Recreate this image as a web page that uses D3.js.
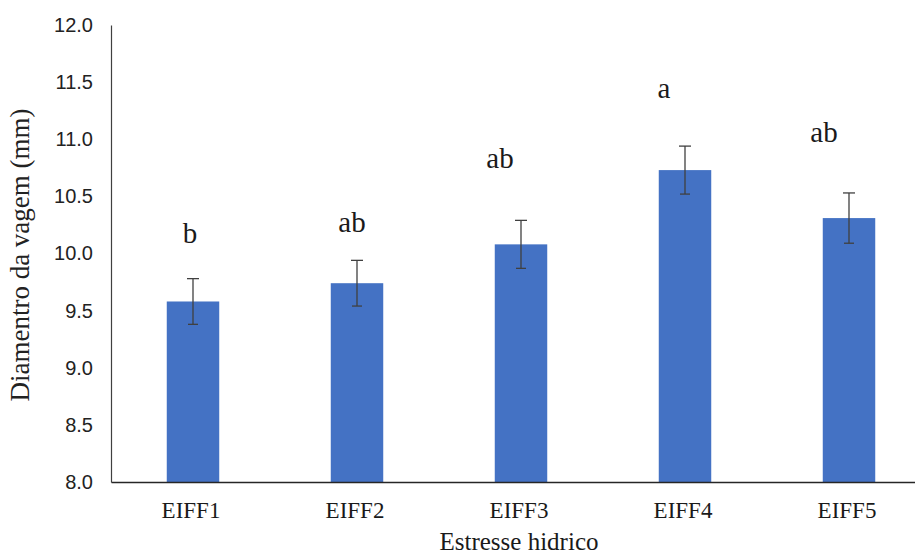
<!DOCTYPE html>
<html><head><meta charset="utf-8">
<script src="https://cdn.jsdelivr.net/npm/d3@7"></script>
<style>html,body{margin:0;padding:0;background:#fff;overflow:hidden}</style>
</head><body>
<svg id="chart" width="915" height="556"></svg>
<script>
const categories = ["EIFF1", "EIFF2", "EIFF3", "EIFF4", "EIFF5"];
const means = [9.58, 9.74, 10.08, 10.73, 10.31];
const errors = [0.20, 0.20, 0.21, 0.21, 0.22];
const letters = ["b", "ab", "ab", "a", "ab"];
const letterLevels = [10.09, 10.19, 10.75, 11.36, 10.98];
const yTicks = [8.0, 8.5, 9.0, 9.5, 10.0, 10.5, 11.0, 11.5, 12.0];
const xTitle = "Estresse hidrico";
const yTitle = "Diamentro da vagem (mm)";

(function () {
const svg = d3.select("#chart");
const mLeft = 111, mRight = 931, mTop = 25, mBottom = 482;
const serif = "Liberation Serif, Times New Roman, serif";

const x = d3.scaleBand().domain(categories).range([mLeft, mRight]).paddingInner(0.68).paddingOuter(0.34);
const y = d3.scaleLinear().domain([8, 12]).range([mBottom, mTop]);
const data = categories.map((c, i) => ({c, m: means[i], e: errors[i], l: letters[i], ly: letterLevels[i]}));

const yAxis = svg.append("g").attr("transform", `translate(${mLeft},0)`)
  .call(d3.axisLeft(y).tickValues(yTicks).tickFormat(d3.format(".1f")).tickSize(0).tickPadding(18));
yAxis.select(".domain").attr("stroke", "#404040").attr("stroke-width", 1.2);
yAxis.selectAll("text").attr("font-family", "Liberation Sans, Arial, sans-serif").attr("font-size", 20).attr("fill", "#222");

svg.append("g").selectAll("rect").data(data).join("rect")
  .attr("x", d => x(d.c)).attr("width", x.bandwidth())
  .attr("y", d => y(d.m)).attr("height", d => y(8) - y(d.m))
  .attr("fill", "#4472C4");

const xAxis = svg.append("g").attr("transform", `translate(0,${mBottom})`)
  .call(d3.axisBottom(x).tickSize(0).tickPadding(20));
xAxis.select(".domain").attr("stroke", "#262626").attr("stroke-width", 1.5);
xAxis.selectAll("text").attr("font-family", serif).attr("font-size", 23).attr("fill", "#1a1a1a")
  .attr("dx", -2);

const eb = svg.append("g").attr("stroke", "#404040").attr("stroke-width", 1.3);
data.forEach(d => {
  const cx = x(d.c) + x.bandwidth() / 2;
  eb.append("line").attr("x1", cx).attr("x2", cx).attr("y1", y(d.m + d.e)).attr("y2", y(d.m - d.e));
  eb.append("line").attr("x1", cx - 6).attr("x2", cx + 6).attr("y1", y(d.m + d.e)).attr("y2", y(d.m + d.e));
  eb.append("line").attr("x1", cx - 5).attr("x2", cx + 5).attr("y1", y(d.m - d.e)).attr("y2", y(d.m - d.e));
});

const letterDx = [-3, -5, -21, -21, -25];
svg.append("g").selectAll("text").data(data).join("text")
  .attr("x", (d, i) => x(d.c) + x.bandwidth() / 2 + letterDx[i])
  .attr("y", d => y(d.ly))
  .attr("text-anchor", "middle")
  .attr("font-family", serif)
  .attr("font-size", 29).attr("fill", "#1a1a1a")
  .text(d => d.l);

svg.append("text").attr("x", 519).attr("y", 550).attr("text-anchor", "middle")
  .attr("font-family", serif).attr("font-size", 25).attr("fill", "#1a1a1a")
  .text(xTitle);
svg.append("text").attr("transform", "translate(29,255) rotate(-90)").attr("text-anchor", "middle")
  .attr("font-family", serif).attr("font-size", 27).attr("fill", "#222")
  .text(yTitle);
})();
</script>
</body></html>
